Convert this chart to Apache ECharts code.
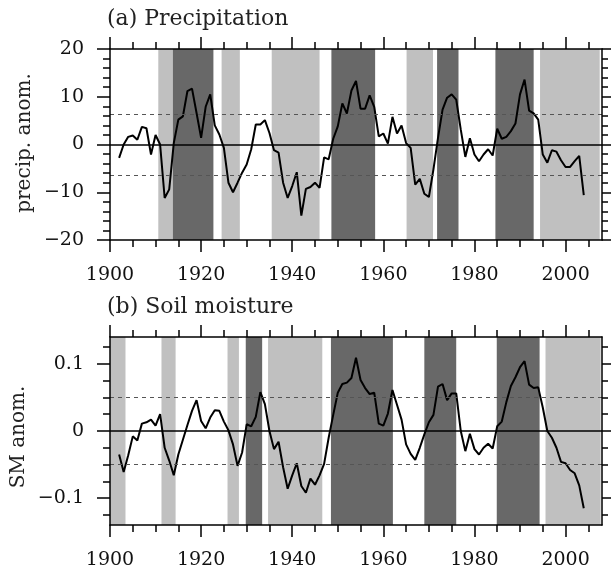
<!DOCTYPE html>
<html>
<head>
<meta charset="utf-8">
<script src="https://cdn.jsdelivr.net/npm/echarts@6/dist/echarts.min.js"></script>
<style>
html,body{margin:0;padding:0;background:#fff;}
#chart{width:611px;height:570px;}
</style>
</head>
<body>
<div id="chart"></div>
<script>
// ---- data ----
var startYear = 1902;
var precip = [
 -2.8, 0.0, 1.6, 1.9, 1.0, 3.7, 3.4, -2.1, 2.0, 0.0,
 -11.2, -9.4, 0.3, 5.2, 5.9, 11.2, 11.7, 6.6, 1.4, 7.9,
 10.5, 4.0, 2.1, -0.7, -8.0, -10.0, -8.0, -5.9, -4.2, -1.0,
 4.2, 4.2, 5.1, 2.4, -1.2, -1.7, -8.0, -11.2, -8.7, -5.8,
 -14.9, -9.3, -8.9, -8.0, -9.1, -2.7, -3.1, 1.2, 3.8, 8.6,
 6.5, 11.3, 13.3, 7.5, 7.5, 10.3, 7.9, 1.7, 2.3, 0.2,
 5.8, 2.3, 4.0, 0.3, -0.7, -8.4, -7.2, -10.3, -11.0, -5.2,
 1.4, 7.3, 9.8, 10.5, 9.4, 3.1, -2.6, 1.3, -2.1, -3.5,
 -2.1, -1.0, -2.3, 3.3, 1.2, 1.6, 2.8, 4.4, 10.5, 13.6,
 7.1, 6.5, 5.2, -2.1, -3.8, -1.2, -1.5, -3.3, -4.7, -4.7,
 -3.5, -2.4, -10.6
];
var soil = [
 -0.035, -0.061, -0.036, -0.008, -0.014, 0.011, 0.013, 0.017, 0.008, 0.025,
 -0.025, -0.044, -0.066, -0.035, -0.013, 0.009, 0.030, 0.046, 0.015, 0.004,
 0.020, 0.031, 0.030, 0.014, 0.001, -0.020, -0.052, -0.032, 0.010, 0.007,
 0.021, 0.058, 0.040, 0.000, -0.027, -0.016, -0.054, -0.086, -0.066, -0.048,
 -0.082, -0.092, -0.071, -0.080, -0.066, -0.049, -0.010, 0.024, 0.057, 0.070,
 0.072, 0.079, 0.109, 0.076, 0.064, 0.055, 0.057, 0.011, 0.008, 0.026,
 0.061, 0.039, 0.017, -0.020, -0.034, -0.043, -0.025, -0.005, 0.013, 0.024,
 0.066, 0.070, 0.046, 0.056, 0.056, 0.000, -0.030, -0.004, -0.027, -0.035,
 -0.025, -0.019, -0.026, 0.007, 0.014, 0.043, 0.067, 0.080, 0.095, 0.104,
 0.069, 0.064, 0.065, 0.035, 0.000, -0.010, -0.025, -0.046, -0.048, -0.058,
 -0.063, -0.081, -0.115
];
// shaded periods: [start, end, kind]  kind: 'L' light, 'D' dark
var precipBands = [
 [1910.6, 1913.8, 'L'], [1913.8, 1922.7, 'D'], [1924.5, 1928.5, 'L'],
 [1935.5, 1946.0, 'L'], [1948.6, 1958.2, 'D'], [1965.1, 1970.9, 'L'],
 [1971.8, 1976.5, 'D'], [1984.6, 1993.0, 'D'], [1994.4, 2007.5, 'L']
];
var soilBands = [
 [1900.0, 1903.4, 'L'], [1911.3, 1914.4, 'L'], [1925.8, 1928.3, 'L'],
 [1929.8, 1933.4, 'D'], [1934.7, 1946.6, 'L'], [1948.5, 1962.1, 'D'],
 [1969.0, 1976.0, 'D'], [1984.9, 1994.3, 'D'], [1995.6, 2007.7, 'L']
];
var precipThresh = 6.4;
var soilThresh = 0.05;
// ticks
var xMajor = [1900, 1920, 1940, 1960, 1980, 2000];
var xMinor = [1905, 1910, 1915, 1925, 1930, 1935, 1945, 1950, 1955, 1965, 1970, 1975, 1985, 1990, 1995, 2005];
var pMajor = [-20, -10, 0, 10, 20];
var pMinor = [-18, -16, -14, -12, -8, -6, -4, -2, 2, 4, 6, 8, 12, 14, 16, 18];
var sMajor = [-0.1, 0, 0.1];
var sMinor = [-0.125, -0.075, -0.05, -0.025, 0.025, 0.05, 0.075, 0.125];

// ---- build ----
var FONT = 'DejaVu Serif';
var LIGHT = '#c0c0c0', DARK = '#686868';
function pairs(vals){ return vals.map(function(v,i){ return [startYear + i, v]; }); }
function fmtMinus(v){ return String(v).replace('-', '\u2212'); }
function fmtYear(v){ return String(v); }

function xAxes(g){
  var base = {gridIndex:g, type:'value', min:1900, max:2008, splitLine:{show:false}, z:5};
  function ax(pos, vals, len, line, labels){
    return Object.assign({}, base, {
      position: pos,
      axisLine:{show:line, onZero:false, lineStyle:{color:'#000', width:1.5}},
      axisTick:{show:true, inside:false, customValues: vals, length: len, lineStyle:{color:'#000', width:1.5}},
      axisLabel: labels ? {show:true, customValues: vals, margin:26, fontFamily:FONT, fontSize:19, color:'#111', formatter: fmtYear} : {show:false}
    });
  }
  return [ax('bottom', xMajor, 12, true, true), ax('bottom', xMinor, 7, false, false),
          ax('top', xMajor, 12, true, false), ax('top', xMinor, 7, false, false)];
}
function yAxes(g, mn, mx, major, minor){
  var base = {gridIndex:g, type:'value', min:mn, max:mx, splitLine:{show:false}, z:5};
  function ax(pos, vals, len, line, labels){
    return Object.assign({}, base, {
      position: pos,
      axisLine:{show:line, onZero:false, lineStyle:{color:'#000', width:1.5}},
      axisTick:{show:true, inside:false, customValues: vals, length: len, lineStyle:{color:'#000', width:1.5}},
      axisLabel: labels ? {show:true, customValues: vals, margin:26, fontFamily:FONT, fontSize:19, color:'#111', formatter: fmtMinus} : {show:false}
    });
  }
  return [ax('left', major, 13, true, true), ax('left', minor, 7, false, false),
          ax('right', major, 9, true, false), ax('right', minor, 6, false, false)];
}
function bandArea(bands){
  return bands.map(function(b){
    return [{xAxis:b[0], itemStyle:{color: b[2]==='D' ? DARK : LIGHT}}, {xAxis:b[1]}];
  });
}
function refLines(th){
  return [
    {yAxis:0, lineStyle:{type:'solid', color:'#000', width:1.5}},
    {yAxis:th, lineStyle:{type:[4,4], color:'#555', width:1}},
    {yAxis:-th, lineStyle:{type:[4,4], color:'#555', width:1}}
  ];
}

var xs = xAxes(0).concat(xAxes(1));
var ys = yAxes(0, -20, 20, pMajor, pMinor).concat(yAxes(1, -0.14, 0.14, sMajor, sMinor));

var option = {
  animation:false,
  backgroundColor:'#fff',
  grid:[
    {left:110, top:49, width:492, height:191},
    {left:110, top:337, width:492, height:192}
  ],
  xAxis: xs,
  yAxis: ys,
  graphic:[
    {type:'text', left:107, top:8, style:{text:'(a) Precipitation', font:'22px "DejaVu Serif"', fill:'#222'}},
    {type:'text', left:107, top:296, style:{text:'(b) Soil moisture', font:'22px "DejaVu Serif"', fill:'#222'}},
    {type:'text', x:25, y:143, rotation:Math.PI/2, style:{text:'precip. anom.', font:'20px "DejaVu Serif"', fill:'#222', align:'center', verticalAlign:'middle'}},
    {type:'text', x:19, y:437, rotation:Math.PI/2, style:{text:'SM anom.', font:'20px "DejaVu Serif"', fill:'#222', align:'center', verticalAlign:'middle'}}
  ],
  series:[
    {type:'line', xAxisIndex:0, yAxisIndex:0, data:[], silent:true, z:1,
     markArea:{silent:true, data: bandArea(precipBands)},
     markLine:{silent:true, symbol:'none', label:{show:false}, data: refLines(precipThresh)}},
    {type:'line', xAxisIndex:0, yAxisIndex:0, data: pairs(precip), symbol:'none', z:3,
     lineStyle:{color:'#000', width:2}},
    {type:'line', xAxisIndex:4, yAxisIndex:4, data:[], silent:true, z:1,
     markArea:{silent:true, data: bandArea(soilBands)},
     markLine:{silent:true, symbol:'none', label:{show:false}, data: refLines(soilThresh)}},
    {type:'line', xAxisIndex:4, yAxisIndex:4, data: pairs(soil), symbol:'none', z:3,
     lineStyle:{color:'#000', width:2}}
  ]
};
var chart = echarts.init(document.getElementById('chart'), null, {renderer:'canvas'});
chart.setOption(option);
</script>
</body>
</html>
